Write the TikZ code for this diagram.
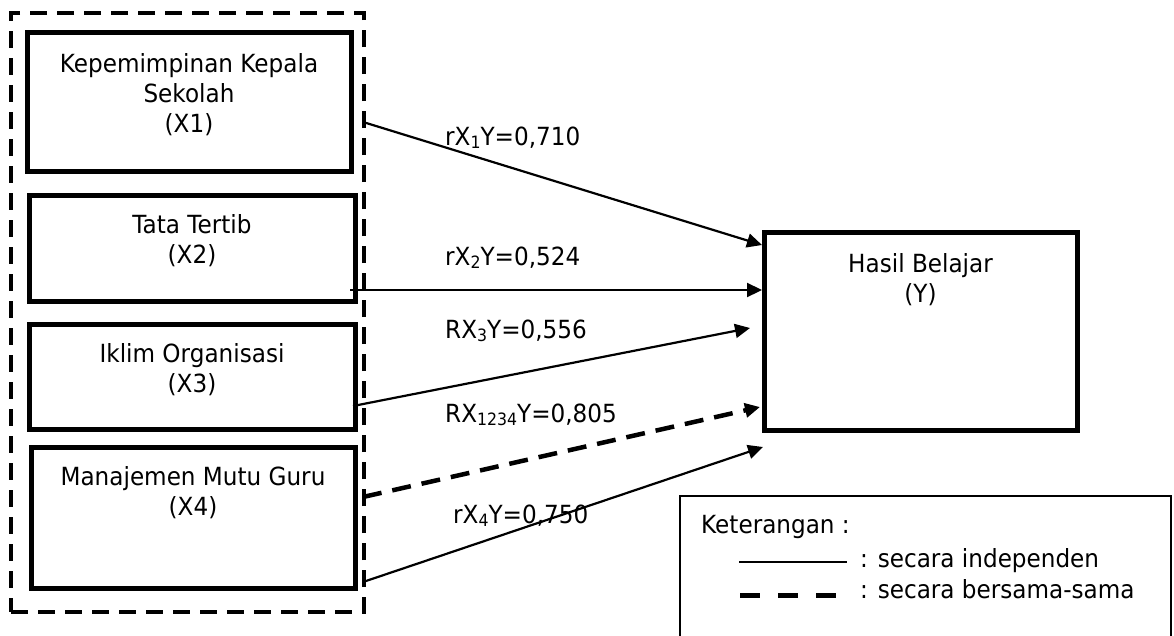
\documentclass[tikz,border=0pt]{standalone}
\usepackage{fontspec}
\setmainfont{DejaVu Sans}[FakeStretch=0.925]
\usetikzlibrary{arrows.meta,calc}
\newcommand{\sbx}[1]{\raisebox{-3.5pt}{\fontsize{17}{17}\selectfont #1}}
\begin{document}
\begin{tikzpicture}[x=1pt,y=-1pt,
  font=\fontsize{25}{30}\selectfont,
  box/.style={draw, line width=5pt, inner sep=0pt, outer sep=0pt, rectangle},
  groupbox/.style={draw, line width=3.5pt, dash pattern=on 17pt off 10pt, inner sep=0pt, outer sep=0pt, rectangle},
  legendbox/.style={draw, line width=1.6pt, inner sep=0pt, outer sep=0pt, rectangle},
  boxtext/.style={anchor=base, inner sep=0pt},
  lbl/.style={anchor=base west, inner sep=0pt},
  conn/.style={line width=2.2pt, -{Triangle[length=15pt,width=14pt]}},
  joint/.style={line width=4.5pt, dash pattern=on 19pt off 11pt, -{Triangle[length=15pt,width=14pt]}}
]
\useasboundingbox (0,0) rectangle (1174,635);

% group of independent variables
\node[groupbox, minimum width=353pt, minimum height=599pt] (grp) at (187.5,312.5) {};

% boxes
\node[box, minimum width=324pt, minimum height=139pt] (x1) at (189,101.5) {};
\node[box, minimum width=326pt, minimum height=106pt] (x2) at (192,248) {};
\node[box, minimum width=326pt, minimum height=105pt] (x3) at (192,376.5) {};
\node[box, minimum width=324pt, minimum height=141pt] (x4) at (193,517.5) {};
\node[box, minimum width=313pt, minimum height=198pt] (y) at (920.5,331) {};

% box texts
\node[boxtext] (x1t) at (189,72) {\begin{tabular}[t]{@{}c@{}}Kepemimpinan Kepala\\Sekolah\\(X1)\end{tabular}};
\node[boxtext] (x2t) at (192,233) {\begin{tabular}[t]{@{}c@{}}Tata Tertib\\(X2)\end{tabular}};
\node[boxtext] (x3t) at (192,362) {\begin{tabular}[t]{@{}c@{}}Iklim Organisasi\\(X3)\end{tabular}};
\node[boxtext] (x4t) at (193,485) {\begin{tabular}[t]{@{}c@{}}Manajemen Mutu Guru\\(X4)\end{tabular}};
\node[boxtext] (yt) at (920.5,272) {\begin{tabular}[t]{@{}c@{}}Hasil Belajar\\(Y)\end{tabular}};

% connector end points
\coordinate (s1) at (363,122);  \coordinate (e1) at (762,245);
\coordinate (s2) at (350,290);  \coordinate (e2) at (762,290);
\coordinate (s3) at (353,406);  \coordinate (e3) at (750,328);
\coordinate (s4) at (363,497);  \coordinate (e4) at (760,407);
\coordinate (s5) at (363,582);  \coordinate (e5) at (763,447);

\draw[conn] (s1) -- (e1);
\draw[conn] (s2) -- (e2);
\draw[conn] (s3) -- (e3);
\draw[joint] (s4) -- (e4);
\draw[conn] (s5) -- (e5);

% connector labels
\node[lbl] (l1) at (445,145) {rX\sbx{1}Y=0,710};
\node[lbl] (l2) at (445,265) {rX\sbx{2}Y=0,524};
\node[lbl] (l3) at (445,338) {RX\sbx{3}Y=0,556};
\node[lbl] (l4) at (445,422) {RX\sbx{1234}Y=0,805};
\node[lbl] (l5) at (453,523) {rX\sbx{4}Y=0,750};

% legend
\node[legendbox, minimum width=491pt, minimum height=160pt] (leg) at (925.5,576) {};
\node[lbl] (legt) at (701,533) {Keterangan :};
\coordinate (ls1) at (739,562); \coordinate (ls2) at (847,562);
\coordinate (ld1) at (740,595); \coordinate (ld2) at (836,595);
\draw[line width=2pt] (ls1) -- (ls2);
\draw[line width=5pt, dash pattern=on 20pt off 18pt] (ld1) -- (ld2);
\node[lbl] (leg1) at (860,567) {: secara independen};
\node[lbl] (leg2) at (860,598) {: secara bersama-sama};
\end{tikzpicture}
\end{document}
